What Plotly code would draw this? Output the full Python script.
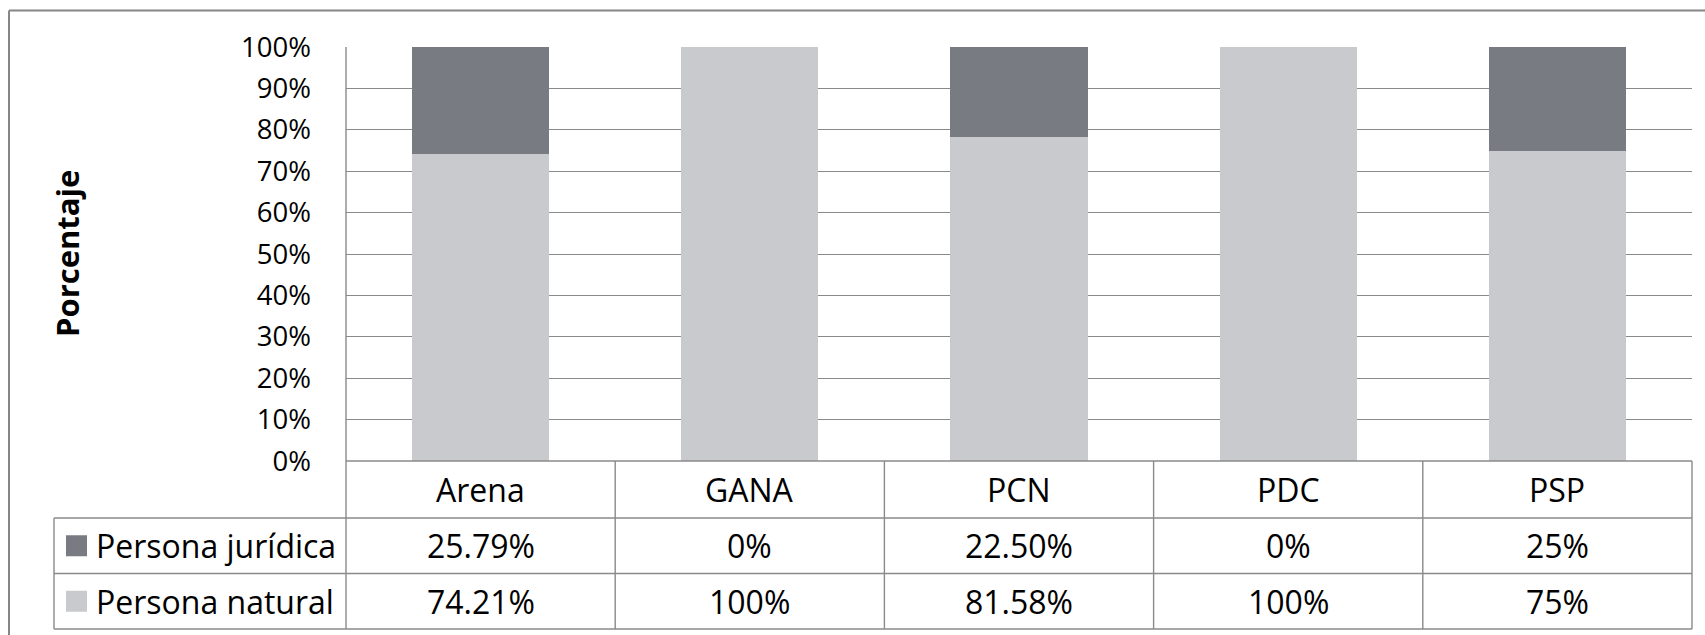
import plotly.graph_objects as go

# ---------------- data ----------------
categories = ["Arena", "GANA", "PCN", "PDC", "PSP"]
series_names = ["Persona jurídica", "Persona natural"]
juridica = [25.79, 0, 22.50, 0, 25]
natural = [74.21, 100, 81.58, 100, 75]
juridica_decimals = [2, 0, 2, 0, 0]
natural_decimals = [2, 0, 2, 0, 0]
y_ticks = [0, 10, 20, 30, 40, 50, 60, 70, 80, 90, 100]
y_title = "Porcentaje"

# ---------------- style ----------------
W, H = 1705, 635
L, R, T, B = 346, 1692, 47, 461
PW, PH = R - L, B - T
FONT = "Open Sans"
FS_AXIS = 27.5
FS_TABLE = 32
DARK = "#787b82"
LIGHT = "#c9cacd"
GRID = "#8a8a8a"


def px(xp):
    return (xp - L) / PW


def py(yp):
    return (B - yp) / PH


fig = go.Figure()
fig.add_trace(go.Bar(x=categories, y=natural, name=series_names[1],
                     marker=dict(color=LIGHT, line=dict(width=0)), width=0.51))
fig.add_trace(go.Bar(x=categories, y=juridica, name=series_names[0],
                     marker=dict(color=DARK, line=dict(width=0)), width=0.51))

shapes = []
line = dict(color=GRID, width=1.4)
row_top, row1, row2, row3 = 461, 518, 573.5, 629
leg_left = 54
shapes.append(dict(type="line", xref="paper", yref="paper", x0=0, x1=0,
                   y0=py(T), y1=py(row3), line=line, layer="above"))
n = len(categories)
for i in range(1, n + 1):
    xpaper = i / n
    shapes.append(dict(type="line", xref="paper", yref="paper", x0=xpaper, x1=xpaper,
                       y0=py(row_top), y1=py(row3), line=line))
shapes.append(dict(type="line", xref="paper", yref="paper", x0=0, x1=1,
                   y0=py(row_top), y1=py(row_top), line=line, layer="above"))
for yy in (row1, row2, row3):
    shapes.append(dict(type="line", xref="paper", yref="paper", x0=px(leg_left), x1=1,
                       y0=py(yy), y1=py(yy), line=line))
shapes.append(dict(type="line", xref="paper", yref="paper", x0=px(leg_left), x1=px(leg_left),
                   y0=py(row1), y1=py(row3), line=line))
border = dict(color="#868686", width=2)
shapes.append(dict(type="line", xref="paper", yref="paper", x0=px(9), x1=px(9),
                   y0=py(10.5), y1=py(700), line=border))
shapes.append(dict(type="line", xref="paper", yref="paper", x0=px(9), x1=px(1800),
                   y0=py(10.5), y1=py(10.5), line=border))
for colr, (ya, yb) in ((DARK, (row1, row2)), (LIGHT, (row2, row3))):
    cy = (ya + yb) / 2
    shapes.append(dict(type="rect", xref="paper", yref="paper",
                       x0=px(66), x1=px(87), y0=py(cy - 10.5), y1=py(cy + 10.5),
                       fillcolor=colr, line=dict(width=0)))

annotations = []
tf = dict(family=FONT, size=FS_TABLE, color="black")
for i, c in enumerate(categories):
    annotations.append(dict(text=c, xref="x", yref="paper", x=c, y=py((row_top + row1) / 2),
                            showarrow=False, font=tf, xanchor="center", yanchor="middle"))
    annotations.append(dict(text=f"{juridica[i]:.{juridica_decimals[i]}f}%", xref="x", yref="paper",
                            x=c, y=py((row1 + row2) / 2), showarrow=False, font=tf,
                            xanchor="center", yanchor="middle"))
    annotations.append(dict(text=f"{natural[i]:.{natural_decimals[i]}f}%", xref="x", yref="paper",
                            x=c, y=py((row2 + row3) / 2), showarrow=False, font=tf,
                            xanchor="center", yanchor="middle"))
for name, (ya, yb) in ((series_names[0], (row1, row2)), (series_names[1], (row2, row3))):
    annotations.append(dict(text=name, xref="paper", yref="paper", x=px(94), y=py((ya + yb) / 2),
                            showarrow=False, font=tf, xanchor="left", yanchor="middle"))
annotations.append(dict(text=f"<b>{y_title}</b>", xref="paper", yref="paper", x=px(67), y=py(254),
                        textangle=-90, showarrow=False,
                        font=dict(family=FONT, size=31, color="black"),
                        xanchor="center", yanchor="middle"))

fig.update_layout(
    width=W, height=H,
    margin=dict(l=L, r=W - R, t=T, b=H - B, pad=0),
    paper_bgcolor="white", plot_bgcolor="white",
    barmode="stack", barnorm="percent",
    showlegend=False,
    shapes=shapes, annotations=annotations,
    font=dict(family=FONT, size=FS_AXIS, color="black"),
    xaxis=dict(range=[-0.5, n - 0.5], showticklabels=False, showgrid=False,
               zeroline=False, showline=False, ticks=""),
    yaxis=dict(range=[0, 100], tickvals=y_ticks, ticktext=[f"{v}%" for v in y_ticks],
               showgrid=True, gridcolor=GRID, gridwidth=1.4, zeroline=False,
               showline=False, ticks="", ticklabelstandoff=34,
               tickfont=dict(family=FONT, size=FS_AXIS, color="black")),
)

fig.write_html("out.html", config={"displayModeBar": False},
               post_script="document.body.style.margin='0';document.body.style.overflow='hidden';")
